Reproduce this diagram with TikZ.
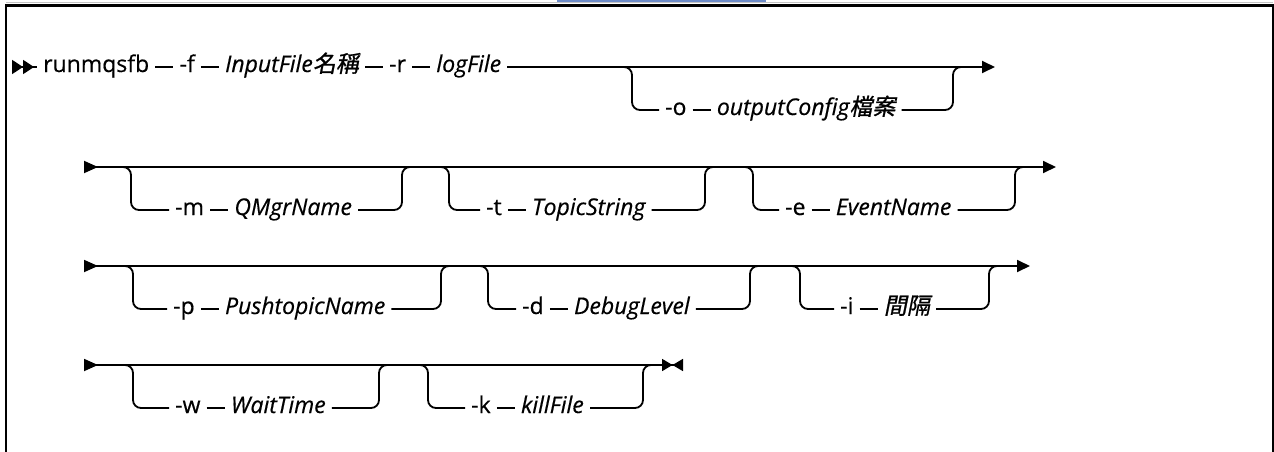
\documentclass[tikz,border=0pt]{standalone}
\usepackage{fontspec}
\setmainfont{Open Sans}[FakeBold=0.5]
\newfontfamily\cjk[FakeSlant=0.2,FakeBold=1]{Noto Sans CJK TC}
\usetikzlibrary{positioning,arrows.meta}
\definecolor{LinkBlue}{RGB}{110,140,200}
\definecolor{EdgeGray}{RGB}{195,195,195}
\newcommand{\zh}[1]{{\cjk\upshape #1}}
\tikzset{
  tok/.style={inner xsep=6pt,inner ysep=0pt,text height=10pt,text depth=0pt,
    font=\fontsize{23}{26}\selectfont},
  var/.style={tok,font=\fontsize{23}{26}\selectfont\itshape},
  rail/.style={draw=black,line width=1.8pt},
  branch/.style={rail,rounded corners=8pt},
  frame/.style={draw=black,line width=2.2pt},
}
\tikzset{head/.style={-{Triangle[length=13pt,width=12pt]}},
  leadhead/.style={{Triangle[reversed,length=14pt,width=12pt]}-{Triangle[length=13pt,width=12pt]}},
  lead2/.style={{Triangle[reversed,length=11pt,width=14pt]Triangle[reversed,length=11pt,width=14pt]}-},
  leadstop/.style={{Triangle[reversed,length=14pt,width=12pt]}-{Triangle[length=10.5pt,width=12pt]Triangle[reversed,length=10.5pt,width=12pt]}}}

\begin{document}
\begin{tikzpicture}[x=1pt,y=-1pt]
\useasboundingbox (0,0) rectangle (1274,452);
% frame
\draw[LinkBlue,line width=2pt] (557,1) -- (766,1);
\draw[EdgeGray,line width=1pt] (6,3) -- (1273,3);
\draw[frame] (6,452) -- (6,5.5) -- (1273,5.5) -- (1273,452);
% row 1
\coordinate (s1) at (12,67);
\coordinate (e1) at (995,67);
\coordinate (b11l) at (632,67);
\coordinate (b11r) at (953,67);
\node[tok,anchor=west] (r1cmd) at (37,67) {runmqsfb};
\node[tok,right=18pt of r1cmd] (r1f) {-f};
\node[var,right=18pt of r1f] (r1inp) {InputFile\zh{名稱}};
\node[tok,right=18pt of r1inp] (r1r) {-r};
\node[var,right=18pt of r1r] (r1log) {logFile};
\node[tok,anchor=west] (r1o) at (659,110) {-o};
\node[var,right=18pt of r1o] (r1cfg) {outputConfig\zh{檔案}};
\draw[rail,lead2] (s1) -- (r1cmd);
\draw[rail] (r1cmd) -- (r1f);
\draw[rail] (r1f) -- (r1inp);
\draw[rail] (r1inp) -- (r1r);
\draw[rail] (r1r) -- (r1log);
\draw[rail,head] (r1log) -- (e1);
\draw[branch] ([xshift=-9pt]b11l) -- (b11l) |- (r1o.west);
\draw[rail] (r1o) -- (r1cfg);
\draw[branch] (r1cfg.east) -| (b11r) -- ([xshift=9pt]b11r);
% row 2
\coordinate (s2) at (84,167);
\coordinate (e2) at (1056,167);
\coordinate (b21l) at (131,167);
\coordinate (b21r) at (402,167);
\coordinate (b22l) at (449,167);
\coordinate (b22r) at (705,167);
\coordinate (b23l) at (753,167);
\coordinate (b23r) at (1015,167);
\node[tok,anchor=west] (r2m) at (169,210) {-m};
\node[var,right=18pt of r2m] (r2qm) {QMgrName};
\node[tok,anchor=west] (r2t) at (480,210) {-t};
\node[var,right=18pt of r2t] (r2ts) {TopicString};
\node[tok,anchor=west] (r2e) at (779,210) {-e};
\node[var,right=18pt of r2e] (r2ev) {EventName};
\draw[rail,leadhead] (s2) -- (e2);
\draw[branch] ([xshift=-9pt]b21l) -- (b21l) |- (r2m.west);
\draw[rail] (r2m) -- (r2qm);
\draw[branch] (r2qm.east) -| (b21r) -- ([xshift=9pt]b21r);
\draw[branch] ([xshift=-9pt]b22l) -- (b22l) |- (r2t.west);
\draw[rail] (r2t) -- (r2ts);
\draw[branch] (r2ts.east) -| (b22r) -- ([xshift=9pt]b22r);
\draw[branch] ([xshift=-9pt]b23l) -- (b23l) |- (r2e.west);
\draw[rail] (r2e) -- (r2ev);
\draw[branch] (r2ev.east) -| (b23r) -- ([xshift=9pt]b23r);
% row 3
\coordinate (s3) at (84,266);
\coordinate (e3) at (1030,266);
\coordinate (b31l) at (133,266);
\coordinate (b31r) at (441,266);
\coordinate (b32l) at (488,266);
\coordinate (b32r) at (750,266);
\coordinate (b33l) at (800,266);
\coordinate (b33r) at (989,266);
\node[tok,anchor=west] (r3p) at (167,309) {-p};
\node[var,right=18pt of r3p] (r3pn) {PushtopicName};
\node[tok,anchor=west] (r3d) at (516,309) {-d};
\node[var,right=18pt of r3d] (r3dl) {DebugLevel};
\node[tok,anchor=west] (r3i) at (834,309) {-i};
\node[var,right=18pt of r3i] (r3iv) {\zh{間隔}};
\draw[rail,leadhead] (s3) -- (e3);
\draw[branch] ([xshift=-9pt]b31l) -- (b31l) |- (r3p.west);
\draw[rail] (r3p) -- (r3pn);
\draw[branch] (r3pn.east) -| (b31r) -- ([xshift=9pt]b31r);
\draw[branch] ([xshift=-9pt]b32l) -- (b32l) |- (r3d.west);
\draw[rail] (r3d) -- (r3dl);
\draw[branch] (r3dl.east) -| (b32r) -- ([xshift=9pt]b32r);
\draw[branch] ([xshift=-9pt]b33l) -- (b33l) |- (r3i.west);
\draw[rail] (r3i) -- (r3iv);
\draw[branch] (r3iv.east) -| (b33r) -- ([xshift=9pt]b33r);
% row 4
\coordinate (s4) at (84,365);
\coordinate (e4) at (683,365);
\coordinate (b41l) at (133,365);
\coordinate (b41r) at (379,365);
\coordinate (b42l) at (428,365);
\coordinate (b42r) at (643,365);
\node[tok,anchor=west] (r4w) at (169,408) {-w};
\node[var,right=18pt of r4w] (r4wt) {WaitTime};
\node[tok,anchor=west] (r4k) at (465,408) {-k};
\node[var,right=18pt of r4k] (r4kf) {killFile};
\draw[rail,leadstop] (s4) -- (e4);
\draw[branch] ([xshift=-9pt]b41l) -- (b41l) |- (r4w.west);
\draw[rail] (r4w) -- (r4wt);
\draw[branch] (r4wt.east) -| (b41r) -- ([xshift=9pt]b41r);
\draw[branch] ([xshift=-9pt]b42l) -- (b42l) |- (r4k.west);
\draw[rail] (r4k) -- (r4kf);
\draw[branch] (r4kf.east) -| (b42r) -- ([xshift=9pt]b42r);
\end{tikzpicture}
\end{document}
